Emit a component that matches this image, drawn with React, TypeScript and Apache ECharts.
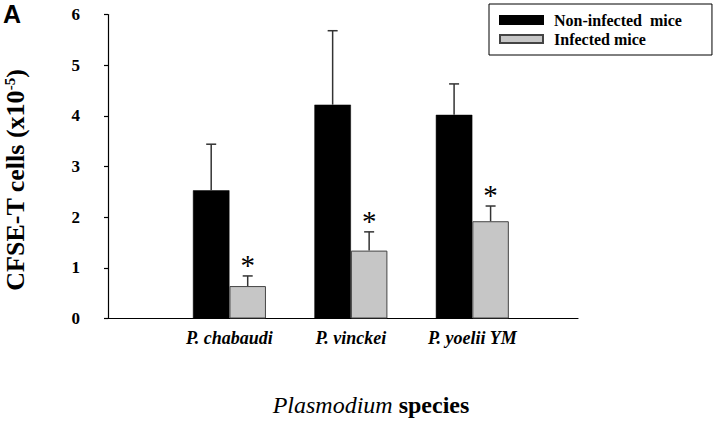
import React, { useEffect, useRef } from "react";
import * as echarts from "echarts";

const categories = ["P. chabaudi", "P. vinckei", "P. yoelii YM"];
const seriesNames = ["Non-infected  mice", "Infected mice"];
const nonInfected = [2.53, 4.22, 4.02];
const nonInfectedErr = [0.91, 1.46, 0.61];
const infected = [0.64, 1.34, 1.92];
const infectedErr = [0.2, 0.37, 0.3];
const infectedSignificant = [true, true, true];
const yTicks = [0, 1, 2, 3, 4, 5, 6];

const SERIF = "'Liberation Serif', 'Times New Roman', serif";
const BAR_W = 36.5;

export default function App() {
  const ref = useRef<HTMLDivElement>(null);
  useEffect(() => {
    if (!ref.current) return;
    const chart = echarts.init(ref.current, undefined, { renderer: "svg" });
    const pos = categories.map((_, i) => i + 1);

    const errSeries = (vals: number[], errs: number[], offset: number, sig: boolean[] | null) => ({
      type: "custom",
      silent: true,
      z: 5,
      data: pos.map((p, i) => [p, vals[i], errs[i], sig && sig[i] ? 1 : 0]),
      renderItem: (params: any, api: any) => {
        const x = api.value(0);
        const v = api.value(1);
        const e = api.value(2);
        const s = api.value(3);
        const base = api.coord([x, v]);
        const top = api.coord([x, v + e]);
        const cx = base[0] + offset;
        const children: any[] = [
          { type: "line", shape: { x1: cx, y1: base[1], x2: cx, y2: top[1] }, style: { stroke: "#333", lineWidth: 1.5 } },
          { type: "line", shape: { x1: cx - 5, y1: top[1], x2: cx + 5, y2: top[1] }, style: { stroke: "#333", lineWidth: 1.5 } },
        ];
        if (s) {
          children.push({
            type: "text",
            x: cx,
            y: top[1] - 11,
            style: { text: "*", fontSize: 29, fontFamily: SERIF, fill: "#000", align: "center", verticalAlign: "middle" },
          });
        }
        return { type: "group", children };
      },
    });

    chart.setOption({
      animation: false,
      textStyle: { fontFamily: SERIF },
      grid: { left: 108, right: 142, top: 14.5, bottom: 103.5, containLabel: false, outerBoundsMode: "none" },
      graphic: [
        {
          type: "text",
          left: 3,
          top: 1,
          style: { text: "A", fontFamily: "'Liberation Sans', Arial, sans-serif", fontWeight: "bold", fontSize: 25, fill: "#000" },
        },
      ],
      legend: {
        left: 489,
        top: 4,
        orient: "vertical",
        borderColor: "#000",
        borderWidth: 1,
        padding: [8, 30, 8, 10],
        itemWidth: 43,
        itemHeight: 8,
        itemGap: 3,
        textStyle: { fontFamily: SERIF, fontWeight: "bold", fontSize: 16, lineHeight: 16, color: "#000", padding: [0, 0, 0, 6] },
        data: seriesNames.map((n) => ({ name: n, icon: "rect" })),
      },
      xAxis: {
        type: "value",
        min: 0,
        max: 3.87,
        interval: 1,
        splitLine: { show: false },
        axisTick: { show: false },
        axisLine: { onZero: false, lineStyle: { color: "#000", width: 1.2 } },
        axisLabel: {
          margin: 10,
          color: "#000",
          fontFamily: SERIF,
          fontSize: 18,
          fontWeight: "bold",
          fontStyle: "italic",
          showMaxLabel: false,
          formatter: (v: number) => (Number.isInteger(v) && v >= 1 && v <= categories.length ? categories[v - 1] : ""),
        },
        name: "{i|Plasmodium}{b| species}",
        nameLocation: "middle",
        nameGap: 74,
        nameTextStyle: {
          padding: [0, 0, 0, 56],
          rich: {
            i: { fontFamily: SERIF, fontStyle: "italic", fontSize: 24, color: "#000" },
            b: { fontFamily: SERIF, fontWeight: "bold", fontSize: 24, color: "#000" },
          },
        },
      },
      yAxis: {
        type: "value",
        min: yTicks[0],
        max: yTicks[yTicks.length - 1],
        interval: 1,
        splitLine: { show: false },
        axisLine: { show: true, onZero: false, lineStyle: { color: "#000", width: 1.2 } },
        axisTick: { show: true, length: 4, lineStyle: { color: "#000", width: 1.2 } },
        axisLabel: { margin: 28, color: "#000", fontFamily: SERIF, fontSize: 17, fontWeight: "bold" },
        name: "{b|CFSE-T cells (x10}{s|-5}{b|)}",
        nameLocation: "middle",
        nameRotate: 90,
        nameGap: 79,
        nameTextStyle: {
          padding: [0, 27, 0, 0],
          rich: {
            b: { fontFamily: SERIF, fontWeight: "bold", fontSize: 26, color: "#000" },
            s: { fontFamily: SERIF, fontWeight: "bold", fontSize: 15, color: "#000", padding: [0, 0, 12, 0] },
          },
        },
      },
      series: [
        {
          name: seriesNames[0],
          type: "bar",
          barWidth: BAR_W,
          barGap: "0%",
          itemStyle: { color: "#000", borderColor: "#000", borderWidth: 0.5 },
          data: pos.map((p, i) => [p, nonInfected[i]]),
        },
        {
          name: seriesNames[1],
          type: "bar",
          barWidth: BAR_W,
          barGap: "0%",
          itemStyle: { color: "#c6c6c6", borderColor: "#444", borderWidth: 1 },
          data: pos.map((p, i) => [p, infected[i]]),
        },
        errSeries(nonInfected, nonInfectedErr, -BAR_W / 2, null),
        errSeries(infected, infectedErr, BAR_W / 2, infectedSignificant),
      ],
    });
    return () => chart.dispose();
  }, []);
  return <div ref={ref} style={{ width: 720, height: 422, position: "absolute", left: 0, top: 0 }} />;
}
